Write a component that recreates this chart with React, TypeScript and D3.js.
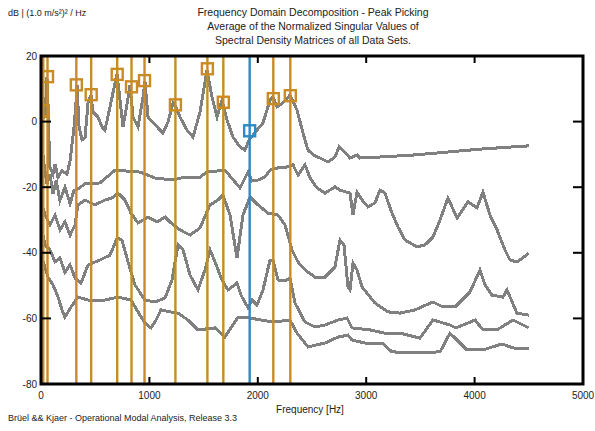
import React from 'react';
import * as d3 from 'd3';

// singular value curves, [frequency Hz, dB]
const sv1 = [[0, -2], [18, 3.5], [37, 1], [55, 13.5], [65, 2], [83, -14], [111, -16], [129, -13], [157, -17], [194, -15], [240, -16], [268, -12], [304, -2], [323, 6], [332, 11.2], [351, -1.6], [378, -5.6], [406, -5.0], [434, 5.7], [461, 8.1], [480, 2.9], [526, 1.4], [563, -1.6], [590, -2.6], [637, 4.5], [683, 11.8], [701, 14.5], [729, 6.6], [756, -1.6], [790, 4.5], [821, 11.2], [849, 1.4], [895, -1.6], [941, 7.5], [959, 12.2], [987, 1.4], [1070, -1.6], [1125, -3.5], [1172, -0.1], [1218, 5.7], [1236, 5.1], [1282, 1.4], [1347, -2.6], [1402, -4.7], [1467, 2.9], [1531, 15.7], [1577, 7.5], [1624, 1.4], [1670, 6.6], [1716, 0.5], [1771, -4.7], [1836, -7.7], [1882, -8.7], [1919, -5.6], [1993, -2.6], [2048, -0.4], [2113, 6.6], [2140, 7.5], [2177, 4.5], [2232, 5.7], [2297, 8.1], [2362, 3.5], [2417, -3.5], [2463, -8.7], [2528, -10.5], [2574, -11.1], [2648, -12.3], [2712, -10.8], [2749, -7.7], [2804, -9.3], [2851, -11.1], [2915, -10.2], [2943, -11.1], [3127, -10.8], [3432, -10.2], [3745, -9.3], [4050, -8.4], [4354, -7.7], [4500, -7.4]];
const sv2 = [[0, -5], [28, -13], [55, -19], [83, -16], [111, -22], [140, -18], [175, -24], [221, -20], [268, -25], [304, -21], [341, -20.5], [406, -19], [544, -18.7], [683, -14.8], [913, -15.4], [1052, -17.2], [1218, -17.8], [1328, -16.9], [1467, -16.9], [1531, -15.4], [1697, -14.8], [1836, -20.2], [1910, -15.4], [1946, -18.1], [2002, -17.8], [2066, -16.9], [2113, -14.8], [2186, -14.1], [2279, -13.8], [2325, -13.2], [2371, -16.3], [2435, -13.2], [2482, -17.2], [2546, -20.2], [2620, -21.8], [2712, -19.9], [2758, -20.9], [2851, -21.8], [2878, -28.5], [2915, -21.5], [2961, -23.9], [3017, -26.0], [3081, -24.8], [3127, -20.9], [3173, -21.8], [3238, -27.9], [3293, -32.1], [3358, -36.1], [3469, -38.2], [3542, -37.6], [3616, -35.2], [3681, -30.0], [3754, -23.3], [3838, -29.4], [3939, -24.5], [4022, -26.3], [4077, -21.5], [4142, -28.5], [4207, -33.0], [4280, -39.1], [4327, -42.2], [4391, -42.8], [4465, -41.0], [4500, -40.1]];
const sv3 = [[0, -24], [37, -28.5], [83, -31.5], [129, -28.5], [175, -33], [221, -30.6], [268, -34.6], [314, -31.5], [341, -25.4], [406, -23.9], [498, -25.4], [590, -23.9], [655, -23.3], [710, -21.8], [775, -23.9], [830, -27.9], [895, -30.9], [987, -29.1], [1070, -30.6], [1144, -29.1], [1199, -30.9], [1282, -33], [1375, -34.6], [1467, -32.4], [1559, -25.4], [1633, -23.9], [1679, -22.4], [1744, -28.5], [1808, -41.6], [1863, -28.5], [1928, -23.0], [2002, -25.4], [2094, -27.9], [2186, -28.5], [2251, -31.5], [2315, -39.1], [2371, -42.8], [2435, -45.2], [2528, -47.4], [2620, -47.4], [2712, -44.3], [2758, -36.1], [2795, -37.6], [2832, -50.4], [2851, -51.3], [2878, -43.1], [2915, -45.2], [2961, -50.4], [3081, -55.3], [3201, -58.0], [3312, -58.4], [3450, -57.4], [3616, -55.0], [3708, -56.5], [3819, -56.5], [3957, -52.0], [4050, -45.2], [4096, -49.8], [4160, -52.9], [4262, -53.5], [4299, -51.3], [4391, -58.4], [4500, -59.0]];
const sv4 = [[0, -31.5], [37, -37.6], [83, -39.1], [129, -42.8], [175, -41.6], [221, -45.9], [268, -43.7], [314, -47.7], [369, -49.2], [434, -43.7], [544, -42.2], [637, -40.7], [701, -35.5], [747, -36.1], [803, -42.8], [867, -49.8], [959, -54.4], [1052, -55.0], [1144, -53.8], [1208, -48.3], [1264, -37.6], [1310, -39.1], [1375, -46.8], [1448, -51.3], [1513, -45.2], [1559, -39.1], [1605, -42.8], [1670, -48.3], [1725, -51.3], [1808, -49.2], [1845, -52.9], [1910, -56.8], [1946, -54.4], [1993, -55.9], [2048, -51.3], [2113, -42.2], [2140, -42.2], [2186, -48.3], [2251, -48.6], [2297, -47.7], [2343, -55.3], [2435, -61.1], [2528, -62.6], [2620, -62.0], [2740, -60.5], [2823, -59.9], [2869, -62.9], [3035, -63.5], [3173, -64.5], [3312, -64.5], [3496, -66.0], [3616, -60.5], [3773, -62.0], [3828, -62.9], [4004, -60.5], [4077, -63.5], [4207, -63.5], [4354, -60.5], [4500, -62.9]];
const sv5 = [[0, -40.7], [37, -44.6], [65, -47.4], [111, -49.8], [157, -53.5], [194, -57.4], [221, -59.6], [277, -56.5], [341, -53.5], [434, -54.4], [590, -54.4], [710, -53.5], [830, -54.4], [913, -59.0], [959, -61.4], [1015, -62.9], [1061, -60.5], [1107, -57.4], [1190, -58.0], [1264, -58.4], [1356, -60.5], [1448, -63.5], [1605, -62.9], [1697, -65.7], [1817, -59.6], [1928, -59.9], [2140, -61.1], [2297, -60.5], [2362, -64.5], [2463, -68.7], [2620, -67.5], [2740, -65.7], [2832, -65.1], [2869, -66.6], [2989, -67.5], [3146, -67.5], [3238, -70.2], [3450, -70.5], [3681, -70.2], [3773, -64.5], [3930, -69.6], [4077, -69.6], [4253, -67.8], [4354, -69.0], [4500, -69.3]];
const curves = [sv1, sv2, sv3, sv4, sv5];

// picked peaks
const peakFreq = [21, 60, 326, 463, 703, 835, 955, 1240, 1535, 1682, 1925, 2143, 2300];
const peakDb = [3.3, 13.7, 11.2, 8.2, 14.4, 10.6, 12.5, 5.1, 16.1, 5.9, -2.8, 7.0, 7.9];
const selectedPeak = 1925;

const xTicks = [0, 1000, 2000, 3000, 4000, 5000];
const yTicks = [20, 0, -20, -40, -60, -80];
const titleLines = [
  'Frequency Domain Decomposition - Peak Picking',
  'Average of the Normalized Singular Values of',
  'Spectral Density Matrices of all Data Sets.',
];

const W = 595, H = 431;
const left = 41, right = 583, top = 56, bottom = 384;
const font = 'Arial, "Liberation Sans", Helvetica, sans-serif';
const orange = '#C98B26';
const blue = '#2A8BC6';
const gray = '#808080';

export default function App() {
  const x = d3.scaleLinear().domain([0, 5000]).range([left, right]);
  const y = d3.scaleLinear().domain([-80, 20]).range([bottom, top]);
  const line = d3.line<number[]>().x(d => x(d[0])).y(d => y(d[1]));

  return (
    <svg width={W} height={H} style={{ position: 'absolute', left: 0, top: 0, background: '#fff' }} fontFamily={font}>
      <defs>
        <clipPath id="plot">
          <rect x={left} y={top} width={right - left} height={bottom - top} />
        </clipPath>
      </defs>
      <text x={8} y={16} fontSize={9} fill="#222">dB | (1.0 m/s²)² / Hz</text>
      {titleLines.map((t, i) => (
        <text key={i} x={313} y={16 + i * 14} fontSize={10.5} textAnchor="middle" fill="#222">{t}</text>
      ))}

      <g clipPath="url(#plot)">
        {curves.map((c, i) => (
          <path key={i} d={line(c) || ''} fill="none" stroke={gray} strokeWidth={3} strokeLinejoin="miter" shapeRendering="crispEdges" />
        ))}
        {peakFreq.map((f, i) => {
          const col = f === selectedPeak ? blue : orange;
          return (
            <g key={i}>
              <line x1={x(f)} x2={x(f)} y1={top} y2={bottom} stroke={col} strokeWidth={2.4} />
              <rect x={x(f) - 5.5} y={y(peakDb[i]) - 5.5} width={11} height={11} fill="none" stroke={col} strokeWidth={2.4} />
            </g>
          );
        })}
      </g>

      {/* ticks */}
      {xTicks.slice(1, -1).map(t => (
        <g key={t}>
          <line x1={x(t)} x2={x(t)} y1={bottom} y2={bottom - 7} stroke="#000" strokeWidth={2} />
          <line x1={x(t)} x2={x(t)} y1={top} y2={top + 7} stroke="#000" strokeWidth={2} />
        </g>
      ))}
      {yTicks.slice(1, -1).map(t => (
        <g key={t}>
          <line x1={left} x2={left + 10} y1={y(t)} y2={y(t)} stroke="#000" strokeWidth={2} />
          <line x1={right} x2={right - 10} y1={y(t)} y2={y(t)} stroke="#000" strokeWidth={2} />
        </g>
      ))}
      <rect x={left} y={top} width={right - left} height={bottom - top} fill="none" stroke="#000" strokeWidth={3} />

      {xTicks.map(t => (
        <text key={t} x={x(t)} y={bottom + 15} fontSize={10} textAnchor="middle" fill="#222">{t}</text>
      ))}
      {yTicks.map(t => (
        <text key={t} x={left - 4} y={y(t) + 3.5} fontSize={10} textAnchor="end" fill="#222">{t}</text>
      ))}
      <text x={310} y={413} fontSize={10} textAnchor="middle" fill="#222">Frequency [Hz]</text>
      <text x={8} y={421} fontSize={9} fill="#222">Brüel &amp;&amp; Kjaer - Operational Modal Analysis, Release 3.3</text>
    </svg>
  );
}
